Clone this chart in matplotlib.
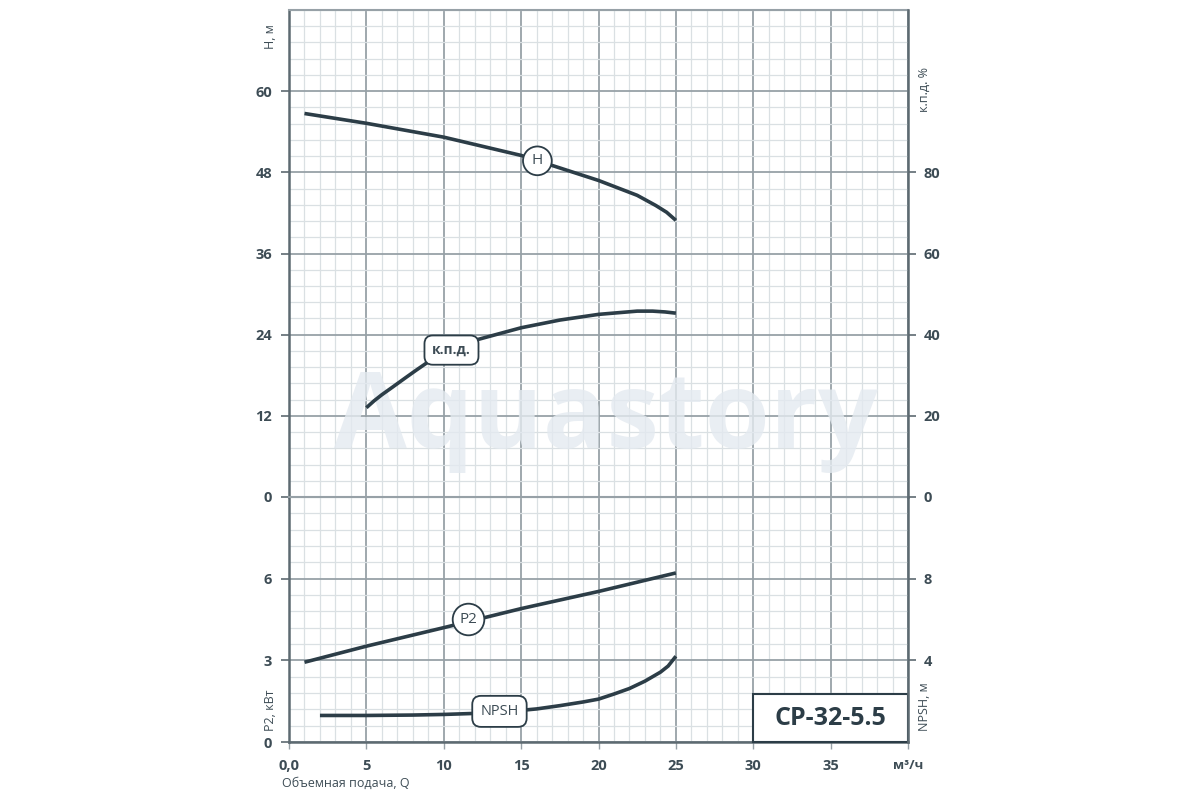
import matplotlib
matplotlib.use("Agg")
import matplotlib.pyplot as plt
from matplotlib.patches import Rectangle
from matplotlib.ticker import MultipleLocator

plt.rcParams["font.family"] = ["Open Sans", "DejaVu Sans"]

# --- data ----------------------------------------------------------------
q_head = [1, 5, 10, 15, 20, 22.5, 23.7, 24.4, 25]
head = [56.7, 55.25, 53.2, 50.5, 46.8, 44.6, 43.1, 42.1, 40.9]

q_eff = [5, 5.5, 6, 6.7, 7.5, 8.2, 9, 10, 12, 15, 17.5, 20, 22.5, 23.5, 24.3, 25]
eff = [22.0, 23.7, 25.2, 27.1, 29.3, 31.2, 33.3, 35.4, 38.6, 41.7, 43.6, 45.0,
       45.8, 45.8, 45.6, 45.3]

q_p2 = [1, 5, 10, 15, 20, 25]
p2 = [2.93, 3.52, 4.20, 4.90, 5.53, 6.21]

q_npsh = [2, 5, 8, 10, 12, 15, 16, 17.5, 19, 20, 21, 22, 23, 23.5, 24, 24.5, 25]
npsh = [1.30, 1.30, 1.32, 1.35, 1.40, 1.55, 1.62, 1.78, 1.96, 2.10, 2.35, 2.62,
        2.98, 3.20, 3.42, 3.72, 4.2]

head_ticks = [0, 12, 24, 36, 48, 60]
eff_ticks = [0, 20, 40, 60, 80]
p2_ticks = [0, 3, 6]
npsh_ticks = [4, 8]
q_ticks = [0, 5, 10, 15, 20, 25, 30, 35, 40]
q_tick_labels = ["0,0", "5", "10", "15", "20", "25", "30", "35", "м³/ч"]

model_name = "CP-32-5.5"

# --- styling ---------------------------------------------------------------
CURVE = "#2c3d47"
TEXT = "#3d4c55"
SPINE = "#5d6a71"
GRID_MAJ = "#97a1a7"
GRID_MIN = "#dae0e3"

W, H = 1200, 800


def fx(px):
    return px / W


def fy(py):
    return 1 - py / H


fig = plt.figure(figsize=(12, 8), dpi=100)
left, right = fx(289), fx(908)
ax_top = fig.add_axes([left, fy(497), right - left, fy(10) - fy(497)])
ax_bot = fig.add_axes([left, fy(742), right - left, fy(497) - fy(742)])


def style_grid(ax, ymajor, yminor):
    ax.set_xlim(0, 40)
    ax.xaxis.set_major_locator(MultipleLocator(5))
    ax.xaxis.set_minor_locator(MultipleLocator(1))
    ax.yaxis.set_major_locator(MultipleLocator(ymajor))
    ax.yaxis.set_minor_locator(MultipleLocator(yminor))
    ax.set_axisbelow(True)
    ax.grid(which="minor", color=GRID_MIN, lw=0.9)
    ax.grid(which="major", color=GRID_MAJ, lw=1.3)
    ax.tick_params(axis="y", which="minor", length=0)
    ax.tick_params(axis="y", which="major", direction="out", length=6, width=1.2,
                   color=SPINE, labelcolor=TEXT, labelsize=10.5, pad=6)
    ax.spines["left"].set_color(SPINE)
    ax.spines["left"].set_linewidth(1.8)
    ax.spines["right"].set_visible(False)


# upper panel: head / efficiency
ax_top.set_ylim(0, 72)
style_grid(ax_top, 12, 2.4)
ax_top.set_yticks(head_ticks)
ax_top.set_yticklabels([str(v) for v in head_ticks], fontweight="bold")
ax_top.tick_params(axis="x", which="both", length=0, labelbottom=False)
ax_top.spines["bottom"].set_visible(False)
ax_top.spines["top"].set_color(GRID_MAJ)
ax_top.spines["top"].set_linewidth(1.5)

# lower panel: P2 / NPSH
ax_bot.set_ylim(0, 9)
style_grid(ax_bot, 3, 0.6)
ax_bot.set_yticks(p2_ticks)
ax_bot.set_yticklabels([str(v) for v in p2_ticks], fontweight="bold")
ax_bot.spines["top"].set_color(GRID_MAJ)
ax_bot.spines["top"].set_linewidth(1.5)
ax_bot.spines["bottom"].set_color(SPINE)
ax_bot.spines["bottom"].set_linewidth(1.8)
ax_bot.set_xticks(q_ticks)
ax_bot.set_xticklabels(q_tick_labels, fontweight="bold")
ax_bot.tick_params(axis="x", which="major", direction="out", length=5, width=1.0,
                   color=GRID_MAJ, labelcolor=TEXT, labelsize=10.5, pad=7)
ax_bot.tick_params(axis="x", which="minor", length=0)
ax_bot.get_xticklabels()[-1].set_fontsize(9.5)

ax_eff = ax_top.twinx()
ax_eff.set_ylim(0, 120)
ax_eff.set_yticks(eff_ticks)
ax_eff.set_yticklabels([str(v) for v in eff_ticks], fontweight="bold")

ax_npsh = ax_bot.twinx()
ax_npsh.set_ylim(0, 12)
ax_npsh.set_yticks(npsh_ticks)
ax_npsh.set_yticklabels([str(v) for v in npsh_ticks], fontweight="bold")

for tw in (ax_eff, ax_npsh):
    tw.set_xlim(0, 40)
    for s in ("left", "top", "bottom"):
        tw.spines[s].set_visible(False)
    tw.spines["right"].set_color(SPINE)
    tw.spines["right"].set_linewidth(1.8)
    tw.tick_params(axis="y", direction="out", length=6, width=1.2, color=SPINE,
                   labelcolor=TEXT, labelsize=10.5, pad=5)

# watermark
ax_top.text(fx(606), fy(448), "Aquastory", transform=fig.transFigure,
            ha="center", va="baseline", fontsize=76, fontweight="bold",
            color="#e4eaf0", alpha=0.8, zorder=1, clip_on=False)

# curves
ax_top.plot(q_head, head, color=CURVE, lw=2.6, solid_capstyle="butt", zorder=3)
ax_eff.plot(q_eff, eff, color=CURVE, lw=2.6, solid_capstyle="butt", zorder=3)
ax_bot.plot(q_p2, p2, color=CURVE, lw=2.6, solid_capstyle="butt", zorder=3)
ax_npsh.plot(q_npsh, npsh, color=CURVE, lw=2.6, solid_capstyle="butt", zorder=3)

# curve tags
circ = dict(boxstyle="circle,pad=0.45", fc="white", ec=CURVE, lw=1.3)
rnd = dict(boxstyle="round,pad=0.55,rounding_size=0.6", fc="white", ec=CURVE, lw=1.3)
ax_top.text(16.05, 49.7, "H", ha="center", va="center", fontsize=11,
            color=TEXT, bbox=circ, zorder=5)
ax_eff.text(10.5, 36.2, "к.п.д.", ha="center", va="center", fontsize=10,
            color=TEXT, fontweight="bold", bbox=rnd, zorder=5)
ax_bot.text(11.6, 4.5, "P2", ha="center", va="center", fontsize=11,
            color=TEXT, bbox=circ, zorder=5)
ax_npsh.text(13.6, 1.5, "NPSH", ha="center", va="center", fontsize=10.5,
             color=TEXT, bbox=rnd, zorder=5)

# model box
ax_bot.add_patch(Rectangle((30, 0), 10, 1.77, fc="white", ec=CURVE, lw=1.5,
                           zorder=4, clip_on=False))
ax_bot.text(35, 0.86, model_name, ha="center", va="center", fontsize=18,
            fontweight="bold", color=CURVE, zorder=5)

# axis titles
fig.text(fx(270), fy(37), "H, м", rotation=90, ha="center", va="center",
         fontsize=9, color=TEXT)
fig.text(fx(924), fy(90), "к.п.д. %", rotation=90, ha="center", va="center",
         fontsize=9, color=TEXT)
fig.text(fx(270), fy(710), "P2, кВт", rotation=90, ha="center", va="center",
         fontsize=9, color=TEXT)
fig.text(fx(924), fy(707), "NPSH, м", rotation=90, ha="center", va="center",
         fontsize=9, color=TEXT)
fig.text(fx(282), fy(783), "Объемная подача, Q", ha="left", va="center",
         fontsize=9, color=TEXT)

fig.savefig("out.png", dpi=100, facecolor="white")
